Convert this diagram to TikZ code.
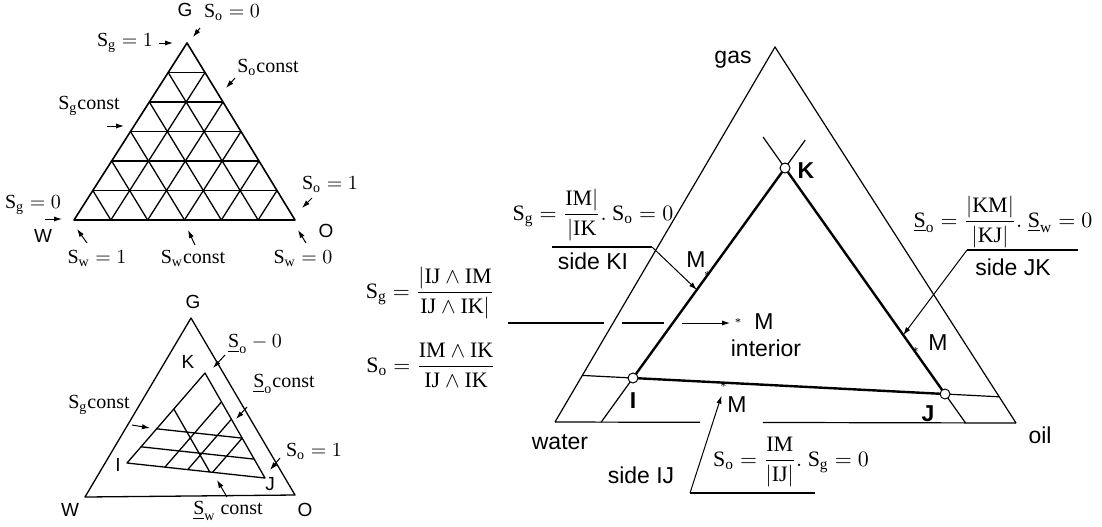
\documentclass[tikz,border=0pt]{standalone}
\usepackage{amsmath}
\usepackage{fontspec}
\setmainfont{Liberation Serif}
\setsansfont{Liberation Sans}
\usetikzlibrary{calc,arrows.meta}

\newcommand\sat[1]{\mathrm{S}_{\mathrm{#1}}}
\newcommand\usat[1]{\underline{\mathrm{S}}_{\mathrm{#1}}}

\begin{document}
\begin{tikzpicture}[x=.5pt,y=-.5pt,
  lab/.style={font=\sffamily\fontsize{9.5}{10}\selectfont,inner sep=1pt},
  biglab/.style={font=\sffamily\fontsize{11.5}{13}\selectfont,inner sep=1pt},
  eq/.style={font=\fontsize{10}{11}\selectfont,inner sep=1pt},
  bigeq/.style={font=\fontsize{11}{13}\selectfont,inner sep=1pt},
  ptr/.style={-{Latex[length=4pt,width=2.6pt]},line width=.5pt},
  gridline/.style={line width=.65pt,line join=round},
  thinside/.style={line width=.6pt},
  thickside/.style={line width=1.2pt,line join=round},
  vtx/.style={circle,draw,fill=white,inner sep=0pt,minimum size=5pt,line width=.5pt},
  mpt/.style={font=\fontsize{6}{6}\selectfont,inner sep=0pt}]
\useasboundingbox (0,0) rectangle (1102,526);

% full saturation triangle with grid
\coordinate (tG) at (187,43);
\coordinate (tW) at (74,220);
\coordinate (tO) at (295,220);
\draw[gridline,line width=.8pt] (tG) -- (tW) -- (tO) -- cycle;
\foreach \i in {1,...,5}{
  \draw[gridline] ($(tG)!\i/6!(tW)$) -- ($(tG)!\i/6!(tO)$);
  \draw[gridline] ($(tW)!\i/6!(tG)$) -- ($(tW)!\i/6!(tO)$);
  \draw[gridline] ($(tO)!\i/6!(tG)$) -- ($(tO)!\i/6!(tW)$);
}
\node[lab] (tGl) at (185,10) {G};
\node[lab] (tWl) at (43,236) {W};
\node[lab] (tOl) at (326,231) {O};
\node[eq] (tSo0) at (232,12) {$\sat{o}=0$};
\node[eq] (tSg1) at (125,43) {$\sat{g}=1$};
\node[eq] (tSoc) at (268,67) {$\sat{o}$const};
\node[eq] (tSgc) at (89,106) {$\sat{g}$const};
\node[eq] (tSo1) at (330,184) {$\sat{o}=1$};
\node[eq] (tSg0) at (33,205) {$\sat{g}=0$};
\node[eq] (tSw1) at (97,258) {$\sat{w}=1$};
\node[eq] (tSwc) at (193,258) {$\sat{w}$const};
\node[eq] (tSw0) at (303,258) {$\sat{w}=0$};
\path (200,28) coordinate (ta1) (193,37) coordinate (ta1t)
      (159,43) coordinate (ta2) (173,43) coordinate (ta2t)
      (235,78) coordinate (ta3) (226,88) coordinate (ta3t)
      (107,126) coordinate (ta4) (124,126) coordinate (ta4t)
      (312,198) coordinate (ta5) (302,208) coordinate (ta5t)
      (45,219) coordinate (ta6) (62,219) coordinate (ta6t)
      (87,243) coordinate (ta7) (77,229) coordinate (ta7t)
      (195,245) coordinate (ta8) (188,230) coordinate (ta8t)
      (306,243) coordinate (ta9) (298,230) coordinate (ta9t);
\foreach \a in {1,...,9}
  \draw[ptr] (ta\a) -- (ta\a t);

% sub-triangle IJK inside the diagram
\coordinate (bG) at (191,318);
\coordinate (bW) at (85,497);
\coordinate (bO) at (295,495);
\coordinate (bK) at (205,373);
\coordinate (bI) at (127,463);
\coordinate (bJ) at (265,478);
\draw[gridline] (bG) -- (bW) -- (bO) -- cycle;
\draw[gridline] (bK) -- (bI) -- (bJ) -- cycle;
\foreach \t in {.62,.82}
  \draw[gridline] ($(bK)!\t!(bI)$) -- ($(bK)!\t!(bJ)$);
\draw[gridline] ($(bK)!.4!(bI)$) -- ($(bI)!.6!(bJ)$);
\foreach \s in {.275,.44,.62}
  \draw[gridline] ($(bI)!\s!(bJ)$) -- ($(bK)!\s!(bJ)$);
\node[lab] (bGl) at (193,302) {G};
\node[lab] (bWl) at (70,510) {W};
\node[lab] (bOl) at (305,510) {O};
\node[lab] (bKl) at (188,362) {K};
\node[lab] (bIl) at (118,465) {I};
\node[lab] (bJl) at (270,484) {J};
\node[eq] (bSo0) at (255,344) {$\usat{o}-0$};
\node[eq] (bSoc) at (284,384) {$\usat{o}$const};
\node[eq] (bSo1) at (314,451) {$\sat{o}=1$};
\node[eq] (bSgc) at (99,405) {$\sat{g}$const};
\node[eq] (bSwc) at (228,511) {$\usat{w}$ const};
\path (225,355) coordinate (ba1) (213,368) coordinate (ba1t)
      (247,407) coordinate (ba2) (236,419) coordinate (ba2t)
      (280,458) coordinate (ba3) (270,470) coordinate (ba3t)
      (132,425) coordinate (ba4) (150,428) coordinate (ba4t)
      (227,497) coordinate (ba5) (217,480) coordinate (ba5t);
\foreach \a in {1,...,5}
  \draw[ptr] (ba\a) -- (ba\a t);

% large diagram: gas / water / oil
\coordinate (gas) at (775,47);
\coordinate (water) at (555,422);
\coordinate (oil) at (1016,423);
\coordinate (K) at (785,168);
\coordinate (I) at (633,378);
\coordinate (J) at (945,394);
\draw[thinside] (water) -- (gas) -- (oil);
\draw[thinside] (water) -- ($(water)!.315!(oil)$);
\draw[thinside] ($(water)!.451!(oil)$) -- (oil);
\draw[thinside] (K) -- ($(I)!1.133!(K)$);
\draw[thinside] (K) -- ($(J)!1.137!(K)$);
\draw[thinside] (I) -- (intersection of K--I and water--oil);
\draw[thinside] (I) -- (intersection of J--I and water--gas);
\draw[thinside] (J) -- (intersection of K--J and water--oil);
\draw[thinside] (J) -- (intersection of I--J and gas--oil);
\draw[thickside] (I) -- (K) -- (J) -- cycle;
\node[vtx] (Kc) at (K) {};
\node[vtx] (Ic) at (I) {};
\node[vtx] (Jc) at (J) {};
\node[biglab,font=\sffamily\bfseries\fontsize{11.5}{13}\selectfont] (Kl) at (806,171) {K};
\node[biglab,font=\sffamily\bfseries\fontsize{11.5}{13}\selectfont] (Il) at (633,401) {I};
\node[biglab,font=\sffamily\bfseries\fontsize{11.5}{13}\selectfont] (Jl) at (928,414) {J};
\node[biglab] (gasl) at (733,60) {gas};
\node[biglab] (waterl) at (560,442) {water};
\node[biglab] (oill) at (1040,435) {oil};

% side KI
\node[bigeq] (eqKI) at (593,215) {$\sat{g}=\dfrac{\mathrm{IM}|}{|\mathrm{IK}}.\ \sat{o}=0$};
\node[biglab] (sKI) at (593,261) {side KI};
\coordinate (kiA) at (552,247);
\coordinate (kiB) at (652,247);
\coordinate (mKI) at ($(K)!.58!(I)$);
\draw[thinside] (kiA) -- (kiB);
\draw[ptr] (kiB) -- (mKI);
\node[mpt] (starKI) at ($(K)!.51!(I)$) {*};
\node[biglab] (MKI) at (696,260) {M};

% side JK
\node[bigeq] (eqJK) at (1003,222) {$\usat{o}=\dfrac{|\mathrm{KM}|}{|\mathrm{KJ}|}.\ \usat{w}=0$};
\node[biglab] (sJK) at (1013,267) {side JK};
\coordinate (jkA) at (1078,250);
\coordinate (jkB) at (967,250);
\coordinate (mJK) at ($(K)!.739!(J)$);
\draw[thinside] (jkA) -- (jkB);
\draw[ptr] (jkB) -- (mJK);
\node[mpt] (starJK) at ($(K)!.814!(J)$) {*};
\node[biglab] (MJK) at (938,343) {M};

% side IJ
\node[bigeq] (eqIJ) at (791,462) {$\sat{o}=\dfrac{\mathrm{IM}}{|\mathrm{IJ}|}.\ \sat{g}=0$};
\node[biglab] (sIJ) at (641,475) {side IJ};
\coordinate (ijA) at (815,493);
\coordinate (ijB) at (690,493);
\coordinate (mIJ) at ($(I)!.29!(J)+(-2,13)$);
\draw[thinside] (ijA) -- (ijB);
\draw[ptr] (ijB) -- (mIJ);
\node[mpt] (starIJ) at ($(I)!.29!(J)+(0,4)$) {*};
\node[biglab] (MIJ) at (737,405) {M};

% interior point
\node[bigeq] (eqSg) at (430,293) {$\sat{g}=\dfrac{|\mathrm{IJ}\wedge\mathrm{IM}}{\mathrm{IJ}\wedge\mathrm{IK}|}$};
\node[bigeq] (eqSo) at (431,365) {$\sat{o}=\dfrac{\mathrm{IM}\wedge\mathrm{IK}}{\mathrm{IJ}\wedge\mathrm{IK}}$};
\path (508,323) coordinate (inA) (604,323) coordinate (inB)
      (622,323) coordinate (inC) (664,323) coordinate (inD)
      (682,323) coordinate (inE) (730,323) coordinate (inF);
\draw[thinside] (inA) -- (inB);
\draw[thinside] (inC) -- (inD);
\draw[ptr] (inE) -- (inF);
\node[mpt] (starIn) at (738,323) {*};
\node[biglab] (MIn) at (764,322) {M};
\node[biglab] (intl) at (766,348) {interior};
\end{tikzpicture}
\end{document}
